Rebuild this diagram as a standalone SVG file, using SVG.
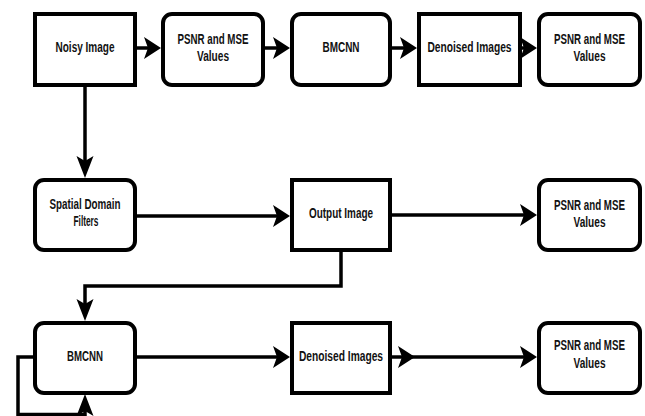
<svg xmlns="http://www.w3.org/2000/svg" width="645" height="416" viewBox="0 0 645 416">
<style>
.box{fill:#fff;stroke:#000;stroke-width:4}
.t{font-family:"Liberation Sans",Arial,sans-serif;font-weight:bold;font-size:14px;fill:#111;text-anchor:middle}
.c{fill:none;stroke:#000;stroke-width:3.5;stroke-linejoin:miter}
.h{marker-end:url(#ah)}
.v{marker-end:url(#av)}
</style>
<defs>
<marker id="ah" markerUnits="userSpaceOnUse" orient="auto" overflow="visible" markerWidth="1" markerHeight="1" refX="0" refY="0">
<path d="M8,0 L-9,-11 L-5,0 L-9,11 Z" fill="#000"/>
</marker>
<marker id="av" markerUnits="userSpaceOnUse" orient="auto" overflow="visible" markerWidth="1" markerHeight="1" refX="0" refY="0">
<path d="M8,0 L-14,-8.5 L-9,0 L-14,8.5 Z" fill="#000"/>
</marker>
</defs>
<rect width="645" height="416" fill="#fff"/>
<g id="connectors">
<path class="c h" d="M137,48 H153"/>
<path class="c h" d="M265,48 H282"/>
<path class="c h" d="M392,48 H409"/>
<path class="c h" d="M522,48 H529"/>
<path class="c v" d="M85,87 V170"/>
<path class="c h" d="M137,216 H282"/>
<path class="c h" d="M392,215 H529"/>
<path class="c v" d="M341,252 V286 H85 V313"/>
<path class="c h" d="M137,357 H282"/>
<path class="c h" d="M392,357 H529"/>
<path d="M415,357 L398,346 L402,357 L398,368 Z" fill="#000"/>
<path class="c v" d="M33,357 H18 V414.5 H85 V402"/>
</g>
<g id="n1"><rect class="box" x="35" y="14" width="100" height="71"/><text class="t" x="85" y="52" textLength="59" lengthAdjust="spacingAndGlyphs">Noisy Image</text></g>
<g id="n2"><rect class="box" x="163" y="14" width="100" height="71" rx="9"/><text class="t" x="213" y="43.5" textLength="71" lengthAdjust="spacingAndGlyphs">PSNR and MSE</text><text class="t" x="213" y="61" textLength="32" lengthAdjust="spacingAndGlyphs">Values</text></g>
<g id="n3"><rect class="box" x="292" y="14" width="98" height="71" rx="9"/><text class="t" x="341" y="52" textLength="37" lengthAdjust="spacingAndGlyphs">BMCNN</text></g>
<g id="n4"><rect class="box" x="419" y="14" width="101" height="71"/><text class="t" x="469.5" y="52" textLength="84" lengthAdjust="spacingAndGlyphs">Denoised Images</text></g>
<g id="n5"><rect class="box" x="539" y="14" width="101" height="71" rx="9"/><text class="t" x="589.5" y="43.5" textLength="71" lengthAdjust="spacingAndGlyphs">PSNR and MSE</text><text class="t" x="589.5" y="61" textLength="32" lengthAdjust="spacingAndGlyphs">Values</text></g>
<g id="n6"><rect class="box" x="35" y="180" width="100" height="70" rx="9"/><text class="t" x="85" y="209" textLength="71" lengthAdjust="spacingAndGlyphs">Spatial Domain</text><text class="t" x="86" y="226" textLength="25" lengthAdjust="spacingAndGlyphs">Filters</text></g>
<g id="n7"><rect class="box" x="292" y="180" width="98" height="70"/><text class="t" x="341" y="218" textLength="64" lengthAdjust="spacingAndGlyphs">Output Image</text></g>
<g id="n8"><rect class="box" x="539" y="180" width="101" height="70" rx="9"/><text class="t" x="589.5" y="210" textLength="71" lengthAdjust="spacingAndGlyphs">PSNR and MSE</text><text class="t" x="589.5" y="227" textLength="32" lengthAdjust="spacingAndGlyphs">Values</text></g>
<g id="n9"><rect class="box" x="35" y="323" width="100" height="70" rx="9"/><text class="t" x="85" y="361" textLength="36" lengthAdjust="spacingAndGlyphs">BMCNN</text></g>
<g id="n10"><rect class="box" x="292" y="323" width="98" height="70"/><text class="t" x="341" y="361" textLength="84" lengthAdjust="spacingAndGlyphs">Denoised Images</text></g>
<g id="n11"><rect class="box" x="539" y="323" width="101" height="70" rx="9"/><text class="t" x="589.5" y="350" textLength="71" lengthAdjust="spacingAndGlyphs">PSNR and MSE</text><text class="t" x="589.5" y="368" textLength="32" lengthAdjust="spacingAndGlyphs">Values</text></g>
</svg>
